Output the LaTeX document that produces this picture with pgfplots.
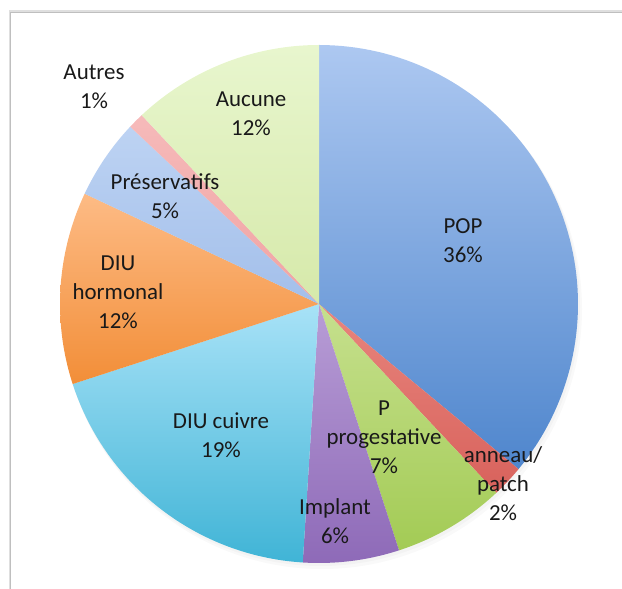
\documentclass[border=0pt]{standalone}
\usepackage{fontspec}
\setmainfont{Carlito}
\usepackage{pgfplots}
\pgfplotsset{compat=1.18}
% centre and radius of the pie (in axis units = bp)
\def\cx{319}\def\cy{285}\def\rr{259}
% \slice{cumulative start %}{value %}{top colour}{bottom colour}
\newcommand\slice[4]{%
  \addplot[draw=none, top color=#3, bottom color=#4,
    domain={90-3.6*#1}:{90-3.6*(#1+#2)}, samples=80, variable=\t]
    ({\cx+\rr*cos(\t)},{\cy+\rr*sin(\t)}) -- (axis cs:\cx,\cy) -- cycle;}
\definecolor{popT}{HTML}{ADC8F1}\definecolor{popB}{HTML}{4F86CD}
\definecolor{annT}{HTML}{E8857D}\definecolor{annB}{HTML}{D8625C}
\definecolor{proT}{HTML}{C6E08E}\definecolor{proB}{HTML}{A3CB55}
\definecolor{impT}{HTML}{B89DD6}\definecolor{impB}{HTML}{8E6AB8}
\definecolor{cuiT}{HTML}{A8E2F7}\definecolor{cuiB}{HTML}{40B4D6}
\definecolor{horT}{HTML}{FDBB85}\definecolor{horB}{HTML}{F28E38}
\definecolor{preT}{HTML}{BDD3F3}\definecolor{preB}{HTML}{A3BFEA}
\definecolor{autT}{HTML}{F6BABA}\definecolor{autB}{HTML}{F0A3A3}
\definecolor{aucT}{HTML}{E8F6CE}\definecolor{aucB}{HTML}{D6E9AA}
\tikzset{lab/.style={font=\fontsize{23}{29}\selectfont, align=center, text=black!90, inner sep=0pt}}
\begin{document}
\begin{tikzpicture}
\begin{axis}[
  scale only axis, width=622bp, height=589bp,
  xmin=0, xmax=622, ymin=0, ymax=589,
  hide axis, clip=false,
]
% frame
\draw[gray!25, line width=3pt] (axis cs:10,-5) -- (axis cs:10,577) -- (axis cs:630,577);
\draw[gray!50, line width=0.8pt] (axis cs:10,-5) -- (axis cs:10,577) -- (axis cs:630,577);
% soft shadow of the pie
\fill[black, opacity=0.025] (axis cs:\cx+3,\cy-5) circle[radius=260bp];
\fill[black, opacity=0.025] (axis cs:\cx+1.5,\cy-2.5) circle[radius=259.5bp];
% slices, clockwise from 12 o'clock
\slice{0}{36}{popT}{popB}   % POP
\slice{36}{2}{annT}{annB}   % anneau/patch
\slice{38}{7}{proT}{proB}   % P progestative
\slice{45}{6}{impT}{impB}   % Implant
\slice{51}{19}{cuiT}{cuiB}  % DIU cuivre
\slice{70}{12}{horT}{horB}  % DIU hormonal
\slice{82}{5}{preT}{preB}   % Preservatifs
\slice{87}{1}{autT}{autB}   % Autres
\slice{88}{12}{aucT}{aucB}  % Aucune
% labels
\node[lab] at (axis cs:94,502) {Autres\\1\%};
\node[lab] at (axis cs:251,475) {Aucune\\12\%};
\node[lab] at (axis cs:165,393) {Préservatifs\\5\%};
\node[lab] at (axis cs:118,297) {DIU\\hormonal\\12\%};
\node[lab] at (axis cs:463,348) {POP\\36\%};
\node[lab] at (axis cs:221,154) {DIU cuivre\\19\%};
\node[lab] at (axis cs:384,152) {P\\progestative\\7\%};
\node[lab] at (axis cs:503,105) {anneau/\\patch\\2\%};
\node[lab] at (axis cs:335,68) {Implant\\6\%};
\end{axis}
\pgfresetboundingbox
\path[use as bounding box] (current axis.south west) rectangle (current axis.north east);
\end{tikzpicture}
\end{document}
